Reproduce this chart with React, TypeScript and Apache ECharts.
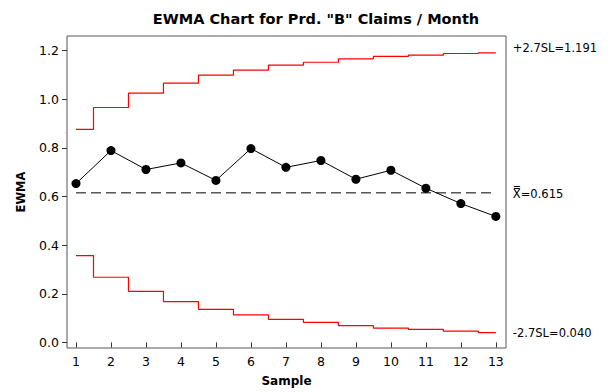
import React, { useEffect, useRef } from "react";
import * as echarts from "echarts";

const samples = [1, 2, 3, 4, 5, 6, 7, 8, 9, 10, 11, 12, 13];
const ewma = [0.653, 0.789, 0.711, 0.738, 0.666, 0.797, 0.72, 0.748, 0.671, 0.708, 0.634, 0.571, 0.518];
const ucl = [0.876, 0.966, 1.025, 1.066, 1.099, 1.12, 1.14, 1.152, 1.166, 1.176, 1.181, 1.188, 1.191];
const lcl = [0.357, 0.268, 0.21, 0.168, 0.136, 0.113, 0.095, 0.082, 0.069, 0.059, 0.054, 0.046, 0.04];
const center = 0.615;
const yTicks = [0, 0.2, 0.4, 0.6, 0.8, 1.0, 1.2];
const title = 'EWMA Chart for Prd. "B" Claims / Month';
const uclLabel = "+2.7SL=1.191";
const lclLabel = "-2.7SL=0.040";
const centerLabel = "X\u033F=0.615";

const FONT = "DejaVu Sans";

export default function App() {
  const ref = useRef<HTMLDivElement>(null);
  useEffect(() => {
    document.body.style.margin = "0";
    if (!ref.current) return;
    const chart = echarts.init(ref.current, undefined, { renderer: "svg" });
    const pairs = (ys: number[]) => samples.map((x, i) => [x, ys[i]]);
    chart.setOption({
      animation: false,
      backgroundColor: "#fff",
      textStyle: { fontFamily: FONT },
      grid: {
        left: 67,
        right: 105,
        top: 36,
        bottom: 43,
        show: true,
        borderColor: "#555",
        borderWidth: 1,
        backgroundColor: "transparent",
      },
      title: {
        text: title,
        left: 311,
        textAlign: "center",
        top: 6,
        textStyle: { fontFamily: FONT, fontSize: 14.5, fontWeight: "bold", color: "#000" },
      },
      xAxis: {
        type: "value",
        min: 0.743,
        max: 13.29,
        axisLine: { show: false },
        splitLine: { show: false },
        axisTick: { show: true, length: 5, customValues: samples, lineStyle: { color: "#333" } },
        axisLabel: {
          customValues: samples,
          color: "#000",
          fontSize: 12.5,
          fontFamily: FONT,
          margin: 7,
        },
        name: "Sample",
        nameLocation: "middle",
        nameGap: 27,
        nameTextStyle: { fontFamily: FONT, fontSize: 12, fontWeight: "bold", color: "#000" },
      },
      yAxis: {
        type: "value",
        min: -0.023,
        max: 1.26,
        axisLine: { show: false },
        splitLine: { show: false },
        axisTick: { show: true, length: 5, customValues: yTicks, lineStyle: { color: "#333" } },
        axisLabel: {
          customValues: yTicks,
          color: "#000",
          fontSize: 12.5,
          fontFamily: FONT,
          margin: 8,
          formatter: (v: number) => v.toFixed(1),
        },
        name: "EWMA",
        nameLocation: "middle",
        nameGap: 40,
        nameRotate: 90,
        nameTextStyle: { fontFamily: FONT, fontSize: 11.5, fontWeight: "bold", color: "#000" },
      },
      series: [
        {
          type: "line",
          data: pairs(ucl),
          step: "middle",
          symbol: "none",
          lineStyle: { color: "#ff0000", width: 1.2 },
          endLabel: {
            show: true,
            formatter: uclLabel,
            distance: 17,
            offset: [0, -5],
            color: "#000",
            fontSize: 11.5,
            fontFamily: FONT,
          },
        },
        {
          type: "line",
          data: pairs(lcl),
          step: "middle",
          symbol: "none",
          lineStyle: { color: "#ff0000", width: 1.2 },
          endLabel: {
            show: true,
            formatter: lclLabel,
            distance: 17,
            color: "#000",
            fontSize: 11.5,
            fontFamily: FONT,
          },
        },
        {
          type: "line",
          data: [
            [samples[0], center],
            [samples[samples.length - 1], center],
          ],
          symbol: "none",
          lineStyle: { color: "#000", width: 1, type: [10, 5] },
          endLabel: {
            show: true,
            formatter: centerLabel,
            distance: 17,
            offset: [0, 1],
            color: "#000",
            fontSize: 11.5,
            fontFamily: FONT,
          },
        },
        {
          type: "line",
          data: pairs(ewma),
          symbol: "circle",
          symbolSize: 9,
          itemStyle: { color: "#000" },
          lineStyle: { color: "#000", width: 1 },
          z: 5,
        },
      ],
    });
    return () => chart.dispose();
  }, []);
  return <div ref={ref} style={{ width: 611, height: 392 }} />;
}
